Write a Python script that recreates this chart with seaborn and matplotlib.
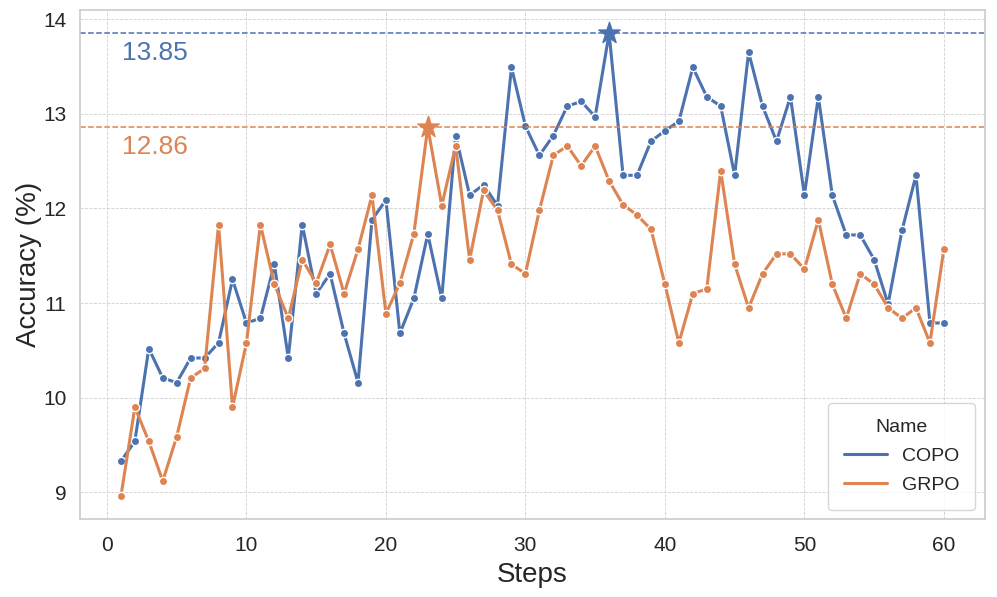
import numpy as np
import pandas as pd
import matplotlib
matplotlib.use("Agg")
import matplotlib.pyplot as plt
from matplotlib.lines import Line2D
import seaborn as sns

steps = list(range(1, 61))
copo = [9.33, 9.54, 10.52, 10.21, 10.16, 10.42, 10.42, 10.58, 11.25, 10.79,
        10.84, 11.41, 10.42, 11.83, 11.10, 11.31, 10.68, 10.16, 11.88, 12.09,
        10.68, 11.05, 11.73, 11.05, 12.77, 12.14, 12.25, 12.03, 13.49, 12.87,
        12.56, 12.77, 13.08, 13.13, 12.97, 13.85, 12.35, 12.35, 12.71, 12.82,
        12.92, 13.49, 13.18, 13.08, 12.35, 13.65, 13.08, 12.71, 13.18, 12.14,
        13.18, 12.14, 11.72, 11.72, 11.46, 10.99, 11.77, 12.35, 10.79, 10.79]
grpo = [8.96, 9.90, 9.54, 9.12, 9.59, 10.21, 10.31, 11.83, 9.90, 10.58,
        11.83, 11.20, 10.84, 11.46, 11.21, 11.62, 11.10, 11.57, 12.14, 10.89,
        11.21, 11.73, 12.86, 12.03, 12.66, 11.46, 12.19, 11.98, 11.41, 11.31,
        11.98, 12.56, 12.66, 12.45, 12.66, 12.29, 12.04, 11.93, 11.78, 11.20,
        10.58, 11.10, 11.15, 12.40, 11.41, 10.95, 11.31, 11.52, 11.52, 11.36,
        11.88, 11.20, 10.84, 11.31, 11.20, 10.95, 10.84, 10.95, 10.58, 11.57]

df = pd.concat([
    pd.DataFrame({"Steps": steps, "Accuracy": copo, "Name": "COPO"}),
    pd.DataFrame({"Steps": steps, "Accuracy": grpo, "Name": "GRPO"}),
])

sns.set_theme(style="whitegrid")
plt.rcParams["font.family"] = ["Liberation Sans", "DejaVu Sans"]
palette = {"COPO": "#4C72B0", "GRPO": "#DD8452"}

fig, ax = plt.subplots(figsize=(9.97, 5.97), dpi=100)
sns.lineplot(data=df, x="Steps", y="Accuracy", hue="Name", palette=palette,
             marker="o", markersize=6, markeredgecolor="white", markeredgewidth=1,
             linewidth=2.2, ax=ax)

# best point of each run: star + dashed line + label
for name, vals in [("COPO", copo), ("GRPO", grpo)]:
    i = int(np.argmax(vals))
    best = vals[i]
    c = palette[name]
    ax.scatter(steps[i], best, marker="*", s=260, color=c, zorder=5, edgecolor=c)
    ax.axhline(best, color=c, linestyle="--", linewidth=1.1)
    ax.text(1.1, best - 0.08, f"{best:.2f}", color=c, fontsize=19, va="top", ha="left")

ax.grid(True, linestyle="--", linewidth=0.6, color="#d0d0d0")
for s in ax.spines.values():
    s.set_color("#cccccc")
    s.set_linewidth(1.2)
ax.set_xlabel("Steps", fontsize=20, labelpad=5)
ax.set_ylabel("Accuracy (%)", fontsize=20, labelpad=1)
ax.tick_params(labelsize=15)
ax.tick_params(axis="x", pad=6)

hl = [Line2D([0], [0], color=palette[n], linewidth=2.2) for n in ["COPO", "GRPO"]]
ax.legend(hl, ["COPO", "GRPO"], title="Name", loc="lower right", fontsize=14,
          title_fontsize=14, borderpad=0.8, labelspacing=0.6, handlelength=2.2)

plt.subplots_adjust(left=0.08, right=0.988, top=0.983, bottom=0.13)
plt.savefig("out.png", dpi=100)
